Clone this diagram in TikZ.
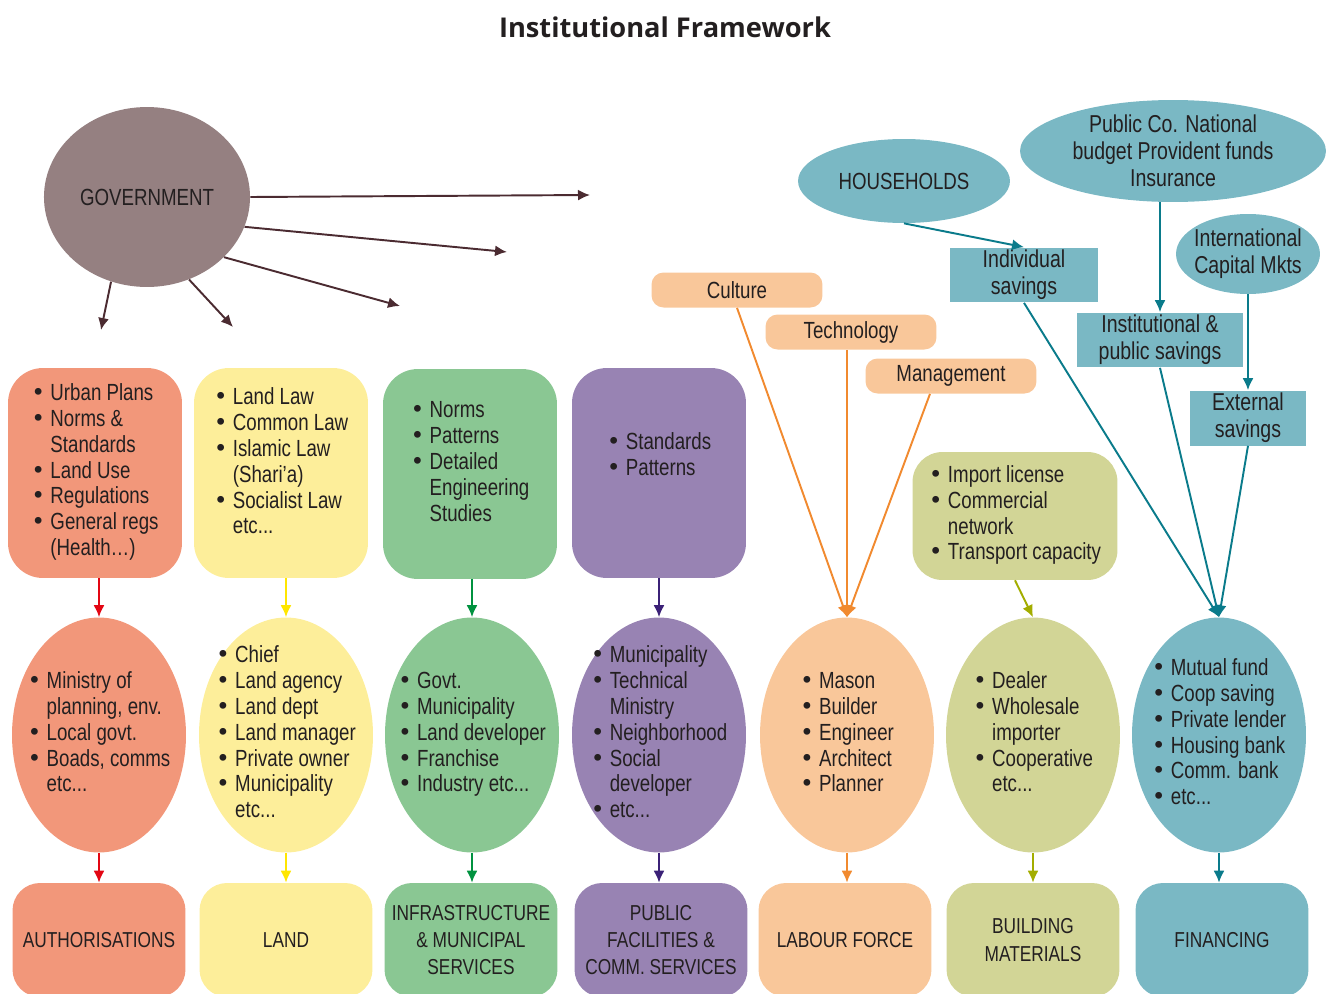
\documentclass[tikz,border=0pt]{standalone}
\usepackage{fontspec}
\setmainfont[FakeStretch=0.8]{Liberation Sans}
\newfontfamily\headfont{Open Sans}
\newfontfamily\dotfont{DejaVu Sans}
\usetikzlibrary{positioning,arrows.meta,shapes.geometric}
\definecolor{ink}{HTML}{231F20}
\definecolor{govfill}{HTML}{958081}
\definecolor{govline}{HTML}{4B2B31}
\definecolor{authfill}{HTML}{F2977A}
\definecolor{authline}{HTML}{E30613}
\definecolor{landfill}{HTML}{FDEE9A}
\definecolor{landline}{HTML}{FFE600}
\definecolor{infrafill}{HTML}{8AC793}
\definecolor{infraline}{HTML}{00923F}
\definecolor{pubfill}{HTML}{9883B3}
\definecolor{publine}{HTML}{3B2177}
\definecolor{labourfill}{HTML}{F9C79A}
\definecolor{labourline}{HTML}{F18A2F}
\definecolor{matfill}{HTML}{D2D596}
\definecolor{matline}{HTML}{A3AD00}
\definecolor{finfill}{HTML}{7AB8C4}
\definecolor{finline}{HTML}{0A7B8B}
\newcommand{\body}{\fontsize{13.3}{14.7}\selectfont}
\newcommand{\caps}{\fontsize{12.3}{15.6}\selectfont}
\newcommand{\roomy}{\fontsize{13.9}{15.4}\selectfont}
\newcommand{\bl}{{\dotfont •}}
\newcommand{\lst}[1]{\begin{tabular}{@{}l@{\hspace{3pt}}l@{}}#1\end{tabular}}
\tikzset{
  every node/.style={text=ink, font=\body},
  panel/.style={rectangle, rounded corners=7mm, minimum width=3.48cm, minimum height=4.2cm, inner sep=2pt},
  bubble/.style={ellipse, minimum width=3.48cm, minimum height=4.7cm, inner sep=0pt},
  outcome/.style={rectangle, rounded corners=5.5mm, minimum width=3.46cm, minimum height=2.28cm, align=center, font=\caps},
  tag/.style={rectangle, rounded corners=2.4mm, fill=labourfill, minimum width=3.42cm, minimum height=0.7cm},
  saving/.style={rectangle, fill=finfill, align=center, minimum height=1.1cm, inner sep=0pt, font=\roomy},
  source/.style={ellipse, fill=finfill, inner sep=0pt},
  fwd/.style={-{Latex[length=2.4mm,width=2.2mm]}, line width=1.1pt},
  auth/.style={fill=authfill},
  land/.style={fill=landfill},
  infra/.style={fill=infrafill},
  pub/.style={fill=pubfill},
  labour/.style={fill=labourfill},
  mat/.style={fill=matfill},
  fin/.style={fill=finfill},
}

\begin{document}
\begin{tikzpicture}[x=0.02cm, y=-0.02cm]
\useasboundingbox (0,0) rectangle (1333,994);

%Title
\node (title) at (665,27) {\headfont\bfseries\fontsize{15.5}{18}\selectfont Institutional Framework};

%Government
\node[ellipse, fill=govfill, minimum width=4cm, minimum height=3.6cm] (gov) at (147,197) {GOVERNMENT};
\coordinate (g1) at (590,195);
\coordinate (g2) at (507,252);
\coordinate (g3) at (400,306);
\coordinate (g4) at (233,327);
\coordinate (g5) at (101,330);

%Top panels
\node[panel, auth] (plans) at (95,473) {\lst{\bl & Urban Plans\\ \bl & Norms \&\\ & Standards\\ \bl & Land Use\\ \bl & Regulations\\ \bl & General regs\\ & (Health\ldots)}};
\node[panel, land] (laws) at (281,473) {\lst{\bl & Land Law\\ \bl & Common Law\\ \bl & Islamic Law\\ & (Shari’a)\\ \bl & Socialist Law\\ & etc...\\[10pt]}};
\node[panel, infra] (norms) at (470,474) {\lst{\bl & Norms\\ \bl & Patterns\\ \bl & Detailed\\ & Engineering\\ & Studies\\[11pt]}};
\node[panel, pub] (stds) at (659,473) {\lst{\bl & Standards\\ \bl & Patterns\\[18pt]}};

%Labour inputs
\node[tag] (culture) at (737,290) {Culture};
\node[tag] (tech) at (851,332) {Technology};
\node[tag] (mgmt) at (951,376) {Management};

%Materials input
\node[rectangle, rounded corners=6mm, mat, minimum width=4.1cm, minimum height=2.56cm] (imports) at (1015,516) {\lst{\bl & Import license\\ \bl & Commercial\\ & network\\ \bl & Transport capacity}};

%Finance sources
\node[source, minimum width=4.24cm, minimum height=1.68cm] (hh) at (904,181) {HOUSEHOLDS};
\node[source, minimum width=6.12cm, minimum height=2.04cm] (pubco) at (1173,151) {};
\node[align=center, font=\roomy] (pubco-txt) at (pubco) {Public Co. National\\budget Provident funds\\Insurance};
\node[source, minimum width=2.88cm, minimum height=1.6cm] (intl) at (1248,254) {};
\node[align=center, font=\roomy] (intl-txt) at (intl) {International\\Capital Mkts};
\node[saving, minimum width=2.98cm] (indiv) at (1024,275) {Individual\\savings};
\node[saving, minimum width=3.34cm] (inst) at (1160,340) {Institutional \&\\public savings};
\node[saving, minimum width=2.34cm] (ext) at (1248,418) {External\\savings};

%Actors
\node[bubble, auth] (ministry) at (99,735) {};
\node (ministry-txt) at (ministry) {\lst{\bl & Ministry of\\ & planning, env.\\ \bl & Local govt.\\ \bl & Boads, comms\\ & etc...}};
\node[bubble, land] (chief) at (286,735) {};
\node (chief-txt) at (chief) {\lst{\bl & Chief\\ \bl & Land agency\\ \bl & Land dept\\ \bl & Land manager\\ \bl & Private owner\\ \bl & Municipality\\ & etc...}};
\node[bubble, infra] (govt) at (472,735) {};
\node (govt-txt) at (govt) {\lst{\bl & Govt.\\ \bl & Municipality\\ \bl & Land developer\\ \bl & Franchise\\ \bl & Industry etc...}};
\node[bubble, pub] (muni) at (659,735) {};
\node (muni-txt) at (muni) {\lst{\bl & Municipality\\ \bl & Technical\\ & Ministry\\ \bl & Neighborhood\\ \bl & Social\\ & developer\\ \bl & etc...}};
\node[bubble, labour] (mason) at (847,735) {};
\node (mason-txt) at (mason) {\lst{\bl & Mason\\ \bl & Builder\\ \bl & Engineer\\ \bl & Architect\\ \bl & Planner}};
\node[bubble, mat] (dealer) at (1033,735) {};
\node (dealer-txt) at (dealer) {\lst{\bl & Dealer\\ \bl & Wholesale\\ & importer\\ \bl & Cooperative\\ & etc...}};
\node[bubble, fin] (fund) at (1219,735) {};
\node (fund-txt) at (fund) {\lst{\bl & Mutual fund\\ \bl & Coop saving\\ \bl & Private lender\\ \bl & Housing bank\\ \bl & Comm. bank\\ \bl & etc...}};

%Outcomes
\node[outcome, auth] (authorisations) at (99,940) {AUTHORISATIONS};
\node[outcome, land] (landbox) at (286,940) {LAND};
\node[outcome, infra] (infrastructure) at (471,940) {INFRASTRUCTURE\\\& MUNICIPAL\\SERVICES};
\node[outcome, pub] (facilities) at (661,940) {PUBLIC\\FACILITIES \&\\COMM. SERVICES};
\node[outcome, labour] (labourforce) at (845,940) {LABOUR FORCE};
\node[outcome, mat] (materials) at (1033,940) {BUILDING\\MATERIALS};
\node[outcome, fin] (financing) at (1222,940) {FINANCING};

%Lines
\draw[fwd, govline] (gov.east) -- (g1);
\draw[fwd, govline] (gov.-17) -- (g2);
\draw[fwd, govline] (gov.-38) -- (g3);
\draw[fwd, govline] (gov.-63) -- (g4);
\draw[fwd, govline] (gov.-113) -- (g5);

\draw[fwd, authline] (ministry.north |- plans.south) -- (ministry.north);
\draw[fwd, landline] (chief.north |- laws.south) -- (chief.north);
\draw[fwd, infraline] (govt.north |- norms.south) -- (govt.north);
\draw[fwd, publine] (muni.north |- stds.south) -- (muni.north);

\draw[fwd, labourline] (culture.south) -- (mason.north);
\draw[fwd, labourline] (tech.south -| mason.north) -- (mason.north);
\draw[fwd, labourline] ([xshift=-0.42cm]mgmt.south) -- (mason.north);
\draw[fwd, matline] (imports.south) -- (dealer.north);

\draw[fwd, finline] (hh.south) -- (indiv.north);
\draw[fwd, finline] (pubco.south -| inst.north) -- (inst.north);
\draw[fwd, finline] (intl.south) -- (ext.north);
\draw[fwd, finline] (indiv.south) -- (fund.north);
\draw[fwd, finline] (inst.south) -- (fund.north);
\draw[fwd, finline] (ext.south) -- (fund.north);

\draw[fwd, authline] (ministry.south) -- (ministry.south |- authorisations.north);
\draw[fwd, landline] (chief.south) -- (chief.south |- landbox.north);
\draw[fwd, infraline] (govt.south) -- (govt.south |- infrastructure.north);
\draw[fwd, publine] (muni.south) -- (muni.south |- facilities.north);
\draw[fwd, labourline] (mason.south) -- (mason.south |- labourforce.north);
\draw[fwd, matline] (dealer.south) -- (dealer.south |- materials.north);
\draw[fwd, finline] (fund.south) -- (fund.south |- financing.north);
\end{tikzpicture}
\end{document}
